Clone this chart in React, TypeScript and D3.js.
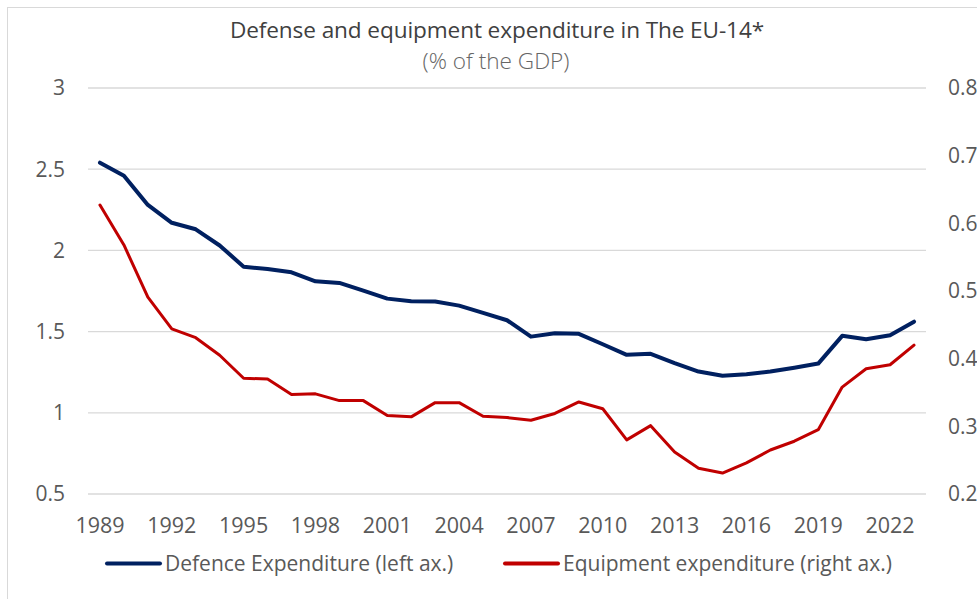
import { useMemo } from "react";
import * as d3 from "d3";

const years = d3.range(1989, 2024).map(String);

const defence = [
  2.54, 2.46, 2.28, 2.17, 2.13, 2.03, 1.9, 1.885, 1.865, 1.81, 1.8, 1.752, 1.703, 1.687,
  1.685, 1.66, 1.615, 1.57, 1.469, 1.49, 1.486, 1.422, 1.357, 1.363, 1.306, 1.254, 1.228,
  1.238, 1.254, 1.277, 1.303, 1.474, 1.453, 1.478, 1.561,
];

const equipment = [
  0.627, 0.568, 0.491, 0.444, 0.431, 0.405, 0.371, 0.37, 0.347, 0.348, 0.338, 0.338, 0.316,
  0.314, 0.335, 0.335, 0.315, 0.313, 0.309, 0.319, 0.336, 0.326, 0.28, 0.301, 0.262, 0.238,
  0.231, 0.246, 0.265, 0.278, 0.295, 0.358, 0.385, 0.391, 0.42,
];

const leftTicks = [0.5, 1, 1.5, 2, 2.5, 3];
const rightTicks = [0.2, 0.3, 0.4, 0.5, 0.6, 0.7, 0.8];
const xTickYears = years.filter((_, i) => i % 3 === 0);

const FONT = "'Open Sans', Lato, sans-serif";
const BLUE = "#002060";
const RED = "#C00000";

const App = () => {
  const width = 977;
  const height = 599;
  const margin = { top: 88, right: 51, bottom: 105, left: 88 };
  const innerWidth = width - margin.left - margin.right;
  const innerHeight = height - margin.top - margin.bottom;

  const xScale = useMemo(
    () => d3.scaleBand().domain(years).range([0, innerWidth]),
    [innerWidth]
  );
  const yLeft = useMemo(
    () => d3.scaleLinear().domain([0.5, 3]).range([innerHeight, 0]),
    [innerHeight]
  );
  const yRight = useMemo(
    () => d3.scaleLinear().domain([0.2, 0.8]).range([innerHeight, 0]),
    [innerHeight]
  );

  const cx = (i: number) => (xScale(years[i]) ?? 0) + xScale.bandwidth() / 2;
  const defenceLine = d3
    .line<number>()
    .x((_, i) => cx(i))
    .y((d) => yLeft(d));
  const equipmentLine = d3
    .line<number>()
    .x((_, i) => cx(i))
    .y((d) => yRight(d));

  return (
    <svg
      width={width}
      height={height}
      style={{ position: "absolute", left: 0, top: 0, background: "#fff" }}
      fontFamily={FONT}
    >
      <rect x={7.5} y={7.5} width={width} height={height} fill="#fff" stroke="#d9d9d9" />
      <text x={497} y={38} textAnchor="middle" fontSize={22.6} fill="#404040" letterSpacing={-0.1}>
        Defense and equipment expenditure in The EU-14*
      </text>
      <text x={496} y={69} textAnchor="middle" fontSize={22.6} fontWeight={300} fill="#666666">
        (% of the GDP)
      </text>
      <g transform={`translate(${margin.left}, ${margin.top})`}>
        {leftTicks.map((t) => (
          <g key={t}>
            <line x1={0} x2={innerWidth} y1={yLeft(t)} y2={yLeft(t)} stroke="#d9d9d9" strokeWidth={1.3} />
            <text x={-23} y={yLeft(t)} dy="0.35em" textAnchor="end" fontSize={21} fill="#595959">
              {t}
            </text>
          </g>
        ))}
        {rightTicks.map((t) => (
          <text key={t} x={innerWidth + 22} y={yRight(t)} dy="0.35em" fontSize={21} fill="#595959">
            {t}
          </text>
        ))}
        {xTickYears.map((y) => (
          <text
            key={y}
            x={(xScale(y) ?? 0) + xScale.bandwidth() / 2}
            y={innerHeight + 39}
            textAnchor="middle"
            fontSize={21.5}
            fill="#595959"
          >
            {y}
          </text>
        ))}
        <path d={equipmentLine(equipment) ?? ""} fill="none" stroke={RED} strokeWidth={3} strokeLinejoin="round" strokeLinecap="round" />
        <path d={defenceLine(defence) ?? ""} fill="none" stroke={BLUE} strokeWidth={4} strokeLinejoin="round" strokeLinecap="round" />
      </g>
      <g transform="translate(107, 563.5)">
        <line x1={0} x2={53} stroke={BLUE} strokeWidth={4} strokeLinecap="round" />
        <text x={58} y={7.5} fontSize={21} fill="#595959">
          Defence Expenditure (left ax.)
        </text>
        <line x1={398} x2={451} stroke={RED} strokeWidth={4} strokeLinecap="round" />
        <text x={456} y={7.5} fontSize={21} fill="#595959">
          Equipment expenditure (right ax.)
        </text>
      </g>
    </svg>
  );
};

export default App;
